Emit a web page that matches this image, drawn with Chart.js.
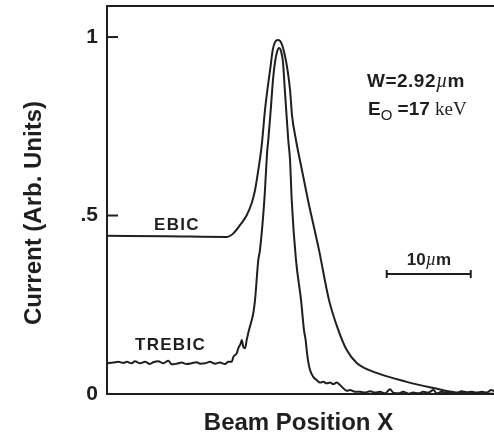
<!DOCTYPE html>
<html>
<head>
<meta charset="utf-8">
<script src="https://cdn.jsdelivr.net/npm/chart.js@4.4.1/dist/chart.umd.min.js"></script>
<style>
html, body { margin: 0; padding: 0; background: #fff; }
#wrap { width: 494px; height: 434px; }
</style>
</head>
<body>
<div id="wrap"><canvas id="chart" width="494" height="434"></canvas></div>
<script>
// beam position in um, current in arb. units
var ebicX = [0, 7, 14.29, 15.04, 15.83, 16.63, 17.23, 17.62, 18.01, 18.42, 18.81, 19.17, 19.46, 19.73, 20.0, 20.3, 20.6, 20.89,
    21.19, 21.49, 21.79, 22.02, 22.5, 23.21, 23.93, 25.24, 26.43, 27.54, 28.54, 29.73, 32.1, 35.68, 38.85, 41.63, 46.07];
var ebicY = [0.443, 0.442, 0.440, 0.450, 0.473, 0.501, 0.535, 0.571, 0.627, 0.697, 0.796, 0.866, 0.916, 0.964, 0.986, 0.992, 0.989, 0.975,
    0.947, 0.908, 0.852, 0.782, 0.711, 0.627, 0.543, 0.403, 0.263, 0.179, 0.123, 0.087, 0.059, 0.034, 0.017, 0.004, 0.001];

var trebicX = [0, 0.75, 1.35, 1.95, 2.35, 2.94, 3.33, 3.93, 4.52, 5.12, 5.51, 6.11, 6.70, 7.30, 7.70, 8.29, 8.89, 9.49, 10.08, 10.68,
    11.07, 11.67, 12.26, 12.86, 13.45, 14.05, 14.44, 14.85, 15.04, 15.44, 15.63, 15.92, 16.04, 16.23, 16.43, 16.63, 16.9, 17.23, 17.42, 17.62,
    18.01, 18.21, 18.73, 19.08, 19.2, 19.49, 19.76, 20.0, 20.24, 20.48, 20.71, 20.95, 21.13, 21.25, 21.58, 21.79, 21.99, 22.5, 23.1, 23.45,
    23.65, 23.77, 23.96, 24.17, 24.56, 24.96, 25.36, 25.75, 26.15, 26.55, 26.94, 27.34, 27.74, 28.13, 28.54, 28.93, 29.52, 30.12, 30.71, 31.31,
    31.90, 32.5, 33.1, 33.69, 34.08, 34.68, 35.27, 35.87, 36.46, 37.06, 37.65, 38.25, 38.85, 39.25, 39.85, 40.44, 41.04, 41.63, 42.23, 42.82,
    43.42, 44.01, 44.61, 45.2, 45.75, 46.07];
var trebicY = [0.086, 0.088, 0.090, 0.087, 0.090, 0.086, 0.092, 0.086, 0.090, 0.084, 0.089, 0.092, 0.086, 0.093, 0.083, 0.085, 0.088, 0.084, 0.086, 0.089,
    0.085, 0.086, 0.090, 0.085, 0.088, 0.084, 0.090, 0.090, 0.104, 0.114, 0.128, 0.142, 0.151, 0.132, 0.128, 0.151, 0.179, 0.207, 0.227, 0.263,
    0.375, 0.403, 0.543, 0.683, 0.711, 0.796, 0.880, 0.930, 0.958, 0.969, 0.961, 0.930, 0.866, 0.824, 0.711, 0.655, 0.543, 0.375, 0.263, 0.179,
    0.151, 0.123, 0.090, 0.067, 0.048, 0.039, 0.032, 0.034, 0.030, 0.032, 0.028, 0.032, 0.025, 0.016, 0.009, 0.011, 0.006, 0.006, 0.004, 0.008,
    0.004, 0.006, 0.002, 0.013, 0.004, 0.002, 0.006, 0.001, 0.004, 0.002, 0.006, 0.004, 0.011, 0.002, 0.006, 0.003, 0.006, 0.002, 0.008, 0.005,
    0.006, 0.004, 0.006, 0.004, 0.011, 0.008];

var yTicks = [0, 0.5, 1];
var yTickLabels = ['0', '.5', '1'];
var scaleBarLength = 10; // um

var INK = '#1f1f1f';
var SANS = '"Liberation Sans", Arial, sans-serif';
var SERIF = '"Liberation Serif", "DejaVu Serif", serif';

function toPoints(xs, ys)
{
    var pts = [];
    for (var i = 0; i < xs.length; i++) { pts.push({x: xs[i], y: ys[i]}); }
    return pts;
}

// draws a list of text runs one after the other
function drawRuns(ctx, x, y, runs)
{
    runs.forEach(function(r) {
        ctx.font = r.font;
        ctx.letterSpacing = r.ls || '0px';
        ctx.fillText(r.t, x, y + (r.dy || 0));
        x += ctx.measureText(r.t).width;
    });
    ctx.letterSpacing = '0px';
}

var decorations = {
    id: 'decorations',
    afterDraw: function(chart)
    {
        var ctx = chart.ctx, area = chart.chartArea;
        var xs = chart.scales.x, ys = chart.scales.y;
        ctx.save();
        ctx.strokeStyle = INK;
        ctx.fillStyle = INK;
        ctx.lineWidth = 2;

        //Top frame line
        ctx.beginPath();
        ctx.moveTo(area.left, area.top);
        ctx.lineTo(area.right, area.top);
        ctx.stroke();

        //Inward tick marks
        yTicks.forEach(function(v) {
            if (v === 0) { return; }
            var py = ys.getPixelForValue(v);
            ctx.beginPath();
            ctx.moveTo(area.left, py);
            ctx.lineTo(area.left + 11, py);
            ctx.stroke();
        });

        //Scale bar
        var bx0 = xs.getPixelForValue(33.3);
        var bx1 = xs.getPixelForValue(33.3 + scaleBarLength);
        var by = ys.getPixelForValue(0.336);
        ctx.beginPath();
        ctx.moveTo(bx0, by); ctx.lineTo(bx1, by);
        ctx.moveTo(bx0, by - 4); ctx.lineTo(bx0, by + 4);
        ctx.moveTo(bx1, by - 4); ctx.lineTo(bx1, by + 4);
        ctx.stroke();

        ctx.textBaseline = 'alphabetic';
        ctx.textAlign = 'left';
        drawRuns(ctx, (bx0 + bx1) / 2 - 22, ys.getPixelForValue(0.361), [
            {t: '10', font: 'bold 17px ' + SANS},
            {t: 'µ', font: 'italic 18px ' + SERIF},
            {t: 'm', font: 'bold 17px ' + SANS}
        ]);

        //Curve labels
        drawRuns(ctx, xs.getPixelForValue(5.6), ys.getPixelForValue(0.459), [
            {t: 'EBIC', font: 'bold 17px ' + SANS, ls: '1.3px'}
        ]);
        drawRuns(ctx, xs.getPixelForValue(3.33), ys.getPixelForValue(0.123), [
            {t: 'TREBIC', font: 'bold 17px ' + SANS, ls: '1.3px'}
        ]);

        //Conditions
        drawRuns(ctx, xs.getPixelForValue(30.95), ys.getPixelForValue(0.860), [
            {t: 'W=2.92', font: 'bold 19px ' + SANS, ls: '0.5px'},
            {t: 'µ', font: 'italic 20px ' + SERIF},
            {t: 'm', font: 'bold 19px ' + SANS}
        ]);
        drawRuns(ctx, xs.getPixelForValue(31.07), ys.getPixelForValue(0.782), [
            {t: 'E', font: 'bold 19px ' + SANS},
            {t: 'O', font: '15px ' + SANS, dy: 5},
            {t: ' =17 ', font: 'bold 19px ' + SANS},
            {t: 'keV', font: '19px ' + SERIF}
        ]);

        //Axis titles
        ctx.font = 'bold 24px ' + SANS;
        ctx.textAlign = 'center';
        ctx.fillText('Beam Position X', (area.left + area.right) / 2 - 2, chart.height - 4);

        ctx.translate(41, (area.top + area.bottom) / 2 + 13);
        ctx.rotate(-Math.PI / 2);
        ctx.fillText('Current (Arb. Units)', 0, 0);
        ctx.restore();
    }
};

var EbicChart =
{
    init: function()
    {
        var ctx = document.getElementById('chart');
        new Chart(ctx, {
            type: 'line',
            data: {
                datasets: [
                    {
                        label: 'EBIC',
                        data: toPoints(ebicX, ebicY),
                        borderColor: INK,
                        borderWidth: 2,
                        pointRadius: 0,
                        cubicInterpolationMode: 'monotone',
                        fill: false
                    },
                    {
                        label: 'TREBIC',
                        data: toPoints(trebicX, trebicY),
                        borderColor: INK,
                        borderWidth: 2,
                        pointRadius: 0,
                        cubicInterpolationMode: 'monotone',
                        fill: false
                    }
                ]
            },
            options: {
                responsive: false,
                animation: false,
                clip: false,
                layout: { padding: { top: 6, right: 0, left: 0, bottom: 0 } },
                plugins: {
                    legend: { display: false },
                    tooltip: { enabled: false }
                },
                scales: {
                    x: {
                        type: 'linear',
                        min: 0,
                        max: 46.07,
                        grid: { display: false },
                        border: { display: true, color: INK, width: 2 },
                        ticks: { display: false },
                        afterFit: function(scale) {
                            scale.height = 40;
                            scale.paddingLeft = 0; scale.paddingRight = 0;
                        }
                    },
                    y: {
                        type: 'linear',
                        min: 0,
                        max: 1.087,
                        grid: { display: false, drawTicks: false },
                        border: { display: true, color: INK, width: 2 },
                        afterBuildTicks: function(scale) {
                            scale.ticks = yTicks.map(function(v) { return {value: v}; });
                        },
                        ticks: {
                            padding: 9,
                            color: INK,
                            font: { family: SANS, size: 21, weight: 'bold' },
                            callback: function(value) {
                                var i = yTicks.indexOf(value);
                                return i >= 0 ? yTickLabels[i] : '';
                            }
                        },
                        afterFit: function(scale) {
                            scale.width = 107;
                            scale.paddingTop = 0; scale.paddingBottom = 0;
                        }
                    }
                }
            },
            plugins: [decorations]
        });
    }
};
EbicChart.init();
</script>
</body>
</html>
